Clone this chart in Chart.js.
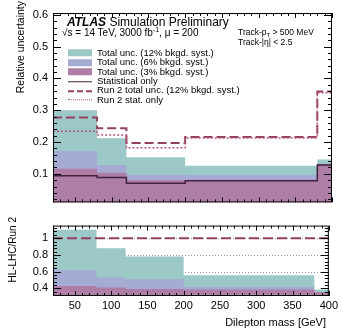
<!DOCTYPE html>
<html>
<head>
<meta charset="utf-8">
<script src="https://cdn.jsdelivr.net/npm/chart.js@4.4.1/dist/chart.umd.min.js"></script>
<style>
  body { margin: 0; background: #fff; font-family: "Liberation Sans", Arial, sans-serif; }
  #wrap { position: relative; width: 341px; height: 330px; overflow: hidden; }
  canvas { position: absolute; left: 0; }
  .t { position: absolute; white-space: nowrap; color: #000; line-height: 1; transform: translateY(-50%); }
  .rot { position: absolute; white-space: nowrap; color: #000; line-height: 1; transform-origin: left top; transform: rotate(-90deg) translate(-100%, -50%); }
  .leg { position: absolute; left: 68px; font-size: 9.5px; }
  .leg div { position: absolute; left: 0; white-space: nowrap; line-height: 1; transform: translateY(-50%); }
  .leg span.box { position: absolute; left: 0; top: 50%; width: 24px; }
  .leg span.txt { padding-left: 29px; }
  sup, sub { font-size: 70%; line-height: 0; }
</style>
</head>
<body>
<div id="wrap">
  <canvas id="top" width="341" height="214" style="top:0"></canvas>
  <canvas id="bottom" width="341" height="116" style="top:214px"></canvas>

  <div class="rot" style="left:20px; top:1px; font-size:10.5px">Relative uncertainty</div>
  <div class="rot" style="left:13px; top:217px; font-size:10px">HL-LHC/Run 2</div>
  <div class="t" style="right:15px; top:322px; font-size:11px">Dilepton mass [GeV]</div>

  <div class="t" style="left:67px; top:22px; font-size:12px"><b><i>ATLAS</i></b> Simulation Preliminary</div>
  <div class="t" style="left:62px; top:33px; font-size:10px">&radic;s = 14 TeV, 3000 fb<sup>-1</sup>, &mu; = 200</div>
  <div class="t" style="left:238px; top:32px; font-size:8.5px">Track-p<sub>T</sub> &gt; 500 MeV</div>
  <div class="t" style="left:238px; top:42px; font-size:8.5px">Track-|&eta;| &lt; 2.5</div>

  <div class="leg" id="legend" style="top:0"></div>
</div>

<script>
// bin edges in dilepton mass [GeV]
const binEdges = [20, 80, 120, 200, 380, 400];

// upper panel: relative uncertainty per bin
const totUnc12 = [0.300, 0.212, 0.152, 0.125, 0.145];
const totUnc6 = [0.172, 0.128, 0.097, 0.096, 0.132];
const totUnc3 = [0.116, 0.103, 0.080, 0.081, 0.130];
const statOnly = [0.094, 0.088, 0.070, 0.078, 0.128];
const run2Total = [0.277, 0.243, 0.197, 0.216, 0.359];
const run2Stat = [0.234, 0.222, 0.182, 0.213, 0.355];

// lower panel: HL-LHC / Run 2
const ratio12 = [1.10, 0.879, 0.78, 0.558, 0.387];
const ratio6 = [0.62, 0.53, 0.51, 0.42, 0.36];
const ratio3 = [0.43, 0.41, 0.395, 0.387, 0.355];
const ratioRef = [1, 1, 1, 1, 1];

// tick labels
const xTicks = [50, 100, 150, 200, 250, 300, 350, 400];
const topYTicks = [0.1, 0.2, 0.3, 0.4, 0.5, 0.6];
const ratioYTicks = [0.4, 0.6, 0.8, 1];
const ratioGrid = [0.6, 0.8, 1];

const C_TEAL = '#9cc8c7';
const C_BLUE = '#a6abd3';
const C_PURP = '#ae7ea6';
const C_STAT = '#43203d';
const C_RUN2 = '#93405f';
const C_RSTAT = '#b8577f';

const FONT = { family: '"Liberation Sans", Arial, sans-serif', size: 11 };

// histogram as step line: value i holds from edge i to edge i+1
function steps(vals) {
  const pts = vals.map((v, i) => ({ x: binEdges[i], y: v }));
  pts.push({ x: binEdges[binEdges.length - 1], y: vals[vals.length - 1] });
  return pts;
}

function fillSet(vals, color, order) {
  return {
    data: steps(vals), stepped: true, fill: 'start',
    backgroundColor: color, borderColor: 'transparent', borderWidth: 1,
    pointRadius: 0, order
  };
}

function lineSet(vals, color, width, dash, order) {
  return {
    data: steps(vals), stepped: true, fill: false,
    borderColor: color, borderWidth: width, borderDash: dash,
    pointRadius: 0, order
  };
}

// ROOT-like frame with inward ticks on all four sides
const frameTicks = {
  id: 'frameTicks',
  beforeDatasetsDraw(chart, args, opts) {
    if (!opts.grid) return;
    const { ctx, chartArea: a, scales: { y } } = chart;
    ctx.save();
    ctx.strokeStyle = '#9a9a9a';
    ctx.lineWidth = 1;
    ctx.setLineDash([1, 2]);
    ctx.beginPath();
    opts.grid.forEach(v => {
      const py = Math.round(y.getPixelForValue(v)) + 0.5;
      ctx.moveTo(a.left, py);
      ctx.lineTo(a.right, py);
    });
    ctx.stroke();
    ctx.restore();
  },
  afterDatasetsDraw(chart, args, opts) {
    const { ctx, chartArea: a, scales: { x, y } } = chart;
    const near = (v, list) => list.some(m => Math.abs(m - v) < 1e-6);
    ctx.save();
    ctx.strokeStyle = '#000';
    ctx.lineWidth = 1;
    ctx.beginPath();
    for (let v = x.min; v <= x.max + 1e-6; v += 10) {
      const px = Math.round(x.getPixelForValue(v)) + 0.5;
      const len = near(v, xTicks) ? 5 : 3;
      ctx.moveTo(px, a.bottom); ctx.lineTo(px, a.bottom - len);
      ctx.moveTo(px, a.top); ctx.lineTo(px, a.top + len);
    }
    for (let k = -20; k < 60; k++) {
      const v = opts.yBase + k * opts.yMinor;
      if (v < y.min || v > y.max) continue;
      const py = Math.round(y.getPixelForValue(v)) + 0.5;
      const len = near(v, opts.yMajor) ? 8 : 4;
      ctx.moveTo(a.left, py); ctx.lineTo(a.left + len, py);
      ctx.moveTo(a.right, py); ctx.lineTo(a.right - len, py);
    }
    ctx.stroke();
    ctx.strokeRect(a.left + 0.5, a.top + 0.5, a.width - 1, a.height - 1);
    ctx.restore();
  }
};

function yAxis(min, max, ticks, fmt) {
  return {
    min, max,
    afterFit(s) { s.width = 53; },
    afterBuildTicks(s) { s.ticks = ticks.map(v => ({ value: v })); },
    grid: { display: false, drawTicks: false },
    border: { display: false },
    ticks: { font: FONT, color: '#000', padding: 5, callback: fmt }
  };
}

const common = {
  responsive: false,
  animation: false,
  events: [],
  elements: { line: { tension: 0 } }
};

new Chart(document.getElementById('top'), {
  type: 'line',
  data: {
    datasets: [
      fillSet(totUnc12, C_TEAL, 6),
      fillSet(totUnc6, C_BLUE, 5),
      fillSet(totUnc3, C_PURP, 4),
      lineSet(statOnly, C_STAT, 1.5, [], 3),
      lineSet(run2Total, C_RUN2, 2, [9, 4], 2),
      lineSet(run2Stat, C_RSTAT, 1.5, [2, 2], 1)
    ]
  },
  options: {
    ...common,
    layout: { padding: { top: 13, right: 9, bottom: 5, left: 0 } },
    scales: {
      x: { type: 'linear', min: 20, max: 400, display: false },
      y: yAxis(0.01, 0.606, topYTicks, v => v.toFixed(1))
    },
    plugins: {
      legend: { display: false }, tooltip: { enabled: false },
      frameTicks: { yBase: 0.1, yMinor: 0.02, yMajor: topYTicks }
    }
  },
  plugins: [frameTicks]
});

new Chart(document.getElementById('bottom'), {
  type: 'line',
  data: {
    datasets: [
      fillSet(ratio12, C_TEAL, 6),
      fillSet(ratio6, C_BLUE, 5),
      fillSet(ratio3, C_PURP, 4),
      lineSet(ratioRef, C_RUN2, 2, [10, 4], 1)
    ]
  },
  options: {
    ...common,
    layout: { padding: { top: 0, right: 9, bottom: 0, left: 0 } },
    scales: {
      x: {
        type: 'linear', min: 20, max: 400,
        afterFit(s) { s.height = 34; },
        afterBuildTicks(s) { s.ticks = xTicks.map(v => ({ value: v })); },
        grid: { display: false, drawTicks: false },
        border: { display: false },
        ticks: { font: FONT, color: '#000', padding: 3, maxRotation: 0, autoSkip: false }
      },
      y: yAxis(0.31, 1.15, ratioYTicks, v => (v === 1 ? '1' : v.toFixed(1)))
    },
    plugins: {
      legend: { display: false }, tooltip: { enabled: false },
      frameTicks: { yBase: 0.4, yMinor: 0.04, yMajor: ratioYTicks, grid: ratioGrid }
    }
  },
  plugins: [frameTicks]
});

// legend entries drawn as html next to the plot
const legendRows = [
  { label: 'Total unc. (12% bkgd. syst.)', fill: C_TEAL },
  { label: 'Total unc. (6% bkgd. syst.)', fill: C_BLUE },
  { label: 'Total unc. (3% bkgd. syst.)', fill: C_PURP },
  { label: 'Statistical only', line: '1.5px solid ' + C_STAT },
  { label: 'Run 2 total unc. (12% bkgd. syst.)', line: '2px dashed ' + C_RUN2 },
  { label: 'Run 2 stat. only', line: '1.5px dotted ' + C_RSTAT }
];
const leg = document.getElementById('legend');
legendRows.forEach((r, i) => {
  const row = document.createElement('div');
  row.style.top = (53 + i * 9.3) + 'px';
  const box = document.createElement('span');
  box.className = 'box';
  if (r.fill) {
    box.style.height = '7px';
    box.style.marginTop = '-3.5px';
    box.style.background = r.fill;
  } else {
    box.style.height = '0';
    box.style.borderTop = r.line;
  }
  const txt = document.createElement('span');
  txt.className = 'txt';
  txt.textContent = r.label;
  row.appendChild(box);
  row.appendChild(txt);
  leg.appendChild(row);
});
</script>
</body>
</html>
